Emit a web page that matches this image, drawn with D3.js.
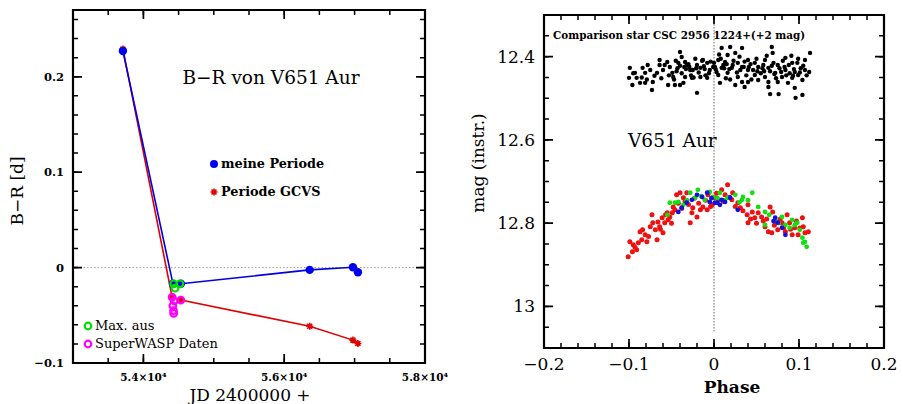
<!DOCTYPE html>
<html><head><meta charset="utf-8">
<script src="https://cdn.jsdelivr.net/npm/d3@7"></script>
<style>body{margin:0;background:#fff}svg{display:block}</style>
</head><body>
<svg id="c" width="903" height="404"></svg>
<script>
// ---------- Left panel data (B-R diagram) ----------
const meinePeriode = [[53709,0.227],[54420,-0.017],[54532,-0.017],[56362,-0.0024],[56976,0.0003],[57047,-0.0049]];
const periodeGCVS  = [[53709,0.229],[54408,-0.031],[54532,-0.034],[56362,-0.0615],[56976,-0.076],[57047,-0.0795]];
const maxAus       = [[54430,-0.017],[54518,-0.017],[54450,-0.0216]];
const superWASP    = [[54408,-0.031],[54437,-0.035],[54532,-0.034],[54418,-0.040],[54428,-0.045],[54430,-0.048]];
const leftXTicks = [54000,56000,58000];
const leftYTicks = [-0.1,0,0.1,0.2];

// ---------- Right panel data (phase diagram) ----------
const compStar = [
[-0.099,12.427],[-0.093,12.439],[-0.100,12.451],[-0.091,12.451],[-0.084,12.427],[-0.078,12.420],[-0.081,12.439],
[-0.096,12.468],[-0.087,12.463],[-0.081,12.463],[-0.072,12.461],[-0.073,12.480],[-0.067,12.439],[-0.064,12.408],
[-0.055,12.413],[-0.052,12.425],[-0.049,12.439],[-0.048,12.449],[-0.054,12.468],[-0.046,12.468],[-0.040,12.468],
[-0.036,12.463],[-0.040,12.389],[-0.038,12.401],[-0.042,12.415],[-0.034,12.413],[-0.032,12.420],[-0.028,12.432],
[-0.025,12.432],[-0.020,12.420],[-0.016,12.427],[-0.013,12.408],[-0.008,12.415],[-0.005,12.432],[-0.001,12.425],
[-0.020,12.487],[-0.034,12.449],[-0.026,12.451],[-0.016,12.449],[-0.008,12.451],[-0.064,12.420],[-0.060,12.432],
[0.009,12.379],[0.019,12.377],[0.033,12.379],[0.068,12.377],[0.016,12.396],[0.025,12.391],[0.005,12.408],
[0.013,12.413],[0.028,12.415],[0.040,12.408],[0.048,12.415],[0.060,12.408],[0.069,12.391],[0.084,12.403],
[0.092,12.415],[0.107,12.408],[0.113,12.391],[0.001,12.425],[0.009,12.427],[0.021,12.427],[0.033,12.425],
[0.040,12.432],[0.052,12.425],[0.064,12.427],[0.075,12.420],[0.084,12.432],[0.095,12.437],[0.107,12.432],
[0.112,12.437],[0.005,12.444],[0.016,12.439],[0.028,12.449],[0.048,12.444],[0.060,12.449],[0.072,12.439],
[0.080,12.449],[0.092,12.451],[0.099,12.444],[0.033,12.461],[0.040,12.461],[0.052,12.456],[0.064,12.461],
[0.075,12.461],[0.087,12.463],[0.104,12.456],[0.007,12.463],[0.025,12.468],[0.036,12.473],[0.064,12.473],
[0.095,12.475],[0.066,12.490],[0.076,12.490],[0.096,12.499],[0.104,12.492],
[-0.075,12.432],[-0.070,12.446],[-0.058,12.420],[-0.045,12.410],[-0.043,12.428],[-0.038,12.440],[-0.030,12.418],
[-0.027,12.445],[-0.022,12.405],[-0.018,12.438],[-0.012,12.423],[-0.010,12.445],[-0.004,12.412],[0.003,12.437],
[0.006,12.395],[0.011,12.420],[0.014,12.452],[0.018,12.430],[0.023,12.410],[0.027,12.438],[0.030,12.400],
[0.035,12.425],[0.038,12.445],[0.043,12.418],[0.046,12.432],[0.050,12.405],[0.055,12.440],[0.058,12.420],
[0.062,12.398],[0.066,12.435],[0.070,12.415],[0.073,12.452],[0.077,12.428],[0.081,12.410],[0.085,12.445],
[0.088,12.420],[0.091,12.398],[0.094,12.430],[0.098,12.415],[0.101,12.438],[0.105,12.422],[0.109,12.445],
[-0.053,12.445],[-0.047,12.455],[-0.033,12.430],[-0.024,12.450],[-0.014,12.410],[-0.006,12.440],[0.000,12.415],
[0.008,12.405],[-0.062,12.452],[-0.040,12.422],[0.019,12.455],[0.044,12.455],[0.059,12.435],[0.083,12.425],
[0.099,12.405],[-0.085,12.450],[-0.079,12.455],[-0.095,12.440],
[-0.029,12.425],[-0.021,12.428],[-0.011,12.430],[0.002,12.430],[0.012,12.428],[0.022,12.420],[0.031,12.432],
[0.041,12.425],[0.051,12.435],[0.057,12.428],[0.068,12.422],[0.079,12.437],[0.089,12.440],[0.102,12.428],
[-0.035,12.425],[-0.044,12.435],[0.015,12.418],[0.036,12.412],[0.071,12.442],[0.093,12.446]
];
const redPts = [
[-0.101,12.881],[-0.096,12.869],[-0.099,12.845],[-0.095,12.852],[-0.091,12.864],[-0.089,12.847],[-0.085,12.840],
[-0.087,12.821],[-0.084,12.816],[-0.081,12.828],[-0.079,12.845],[-0.075,12.809],[-0.073,12.780],[-0.072,12.799],
[-0.069,12.816],[-0.067,12.840],[-0.066,12.797],[-0.064,12.809],[-0.061,12.787],[-0.060,12.823],[-0.058,12.799],
[-0.055,12.775],[-0.054,12.792],[-0.052,12.785],[-0.049,12.775],[-0.048,12.761],[-0.046,12.768],[-0.044,12.732],
[-0.040,12.727],[-0.036,12.739],[-0.032,12.727],[-0.028,12.799],[-0.026,12.775],[-0.025,12.763],[-0.020,12.785],
[-0.016,12.768],[-0.013,12.761],[-0.008,12.768],[-0.007,12.732],[-0.002,12.756],[0.001,12.739],
[0.016,12.708],[0.009,12.720],[0.013,12.732],[0.022,12.727],[0.005,12.744],[0.021,12.744],[0.028,12.751],
[0.031,12.763],[0.040,12.756],[0.039,12.780],[0.045,12.773],[0.048,12.787],[0.052,12.775],[0.040,12.799],
[0.056,12.785],[0.066,12.761],[0.069,12.773],[0.060,12.809],[0.064,12.821],[0.068,12.823],[0.074,12.797],
[0.080,12.799],[0.086,12.780],[0.089,12.799],[0.095,12.811],[0.099,12.828],[0.104,12.787],[0.105,12.809],
[0.107,12.823],[0.092,12.828],[0.075,12.816],[0.084,12.821],[0.111,12.821],
[-0.093,12.858],[-0.077,12.832],[-0.063,12.815],[-0.057,12.780],[-0.050,12.800],[-0.042,12.752],[-0.038,12.765],
[-0.034,12.748],[-0.030,12.755],[-0.023,12.740],[-0.018,12.752],[-0.010,12.745],[-0.004,12.760],[0.003,12.728],
[0.011,12.748],[0.018,12.738],[0.025,12.760],[0.034,12.770],[0.043,12.790],[0.050,12.800],[0.058,12.795],
[0.062,12.790],[0.071,12.805],[0.078,12.790],[0.082,12.812],[0.090,12.815],[0.097,12.795],[0.101,12.812]
];
const greenPts = [
[-0.052,12.751],[-0.046,12.751],[-0.042,12.749],[-0.036,12.756],[-0.028,12.727],[-0.022,12.739],[-0.019,12.720],
[-0.011,12.744],[-0.005,12.725],[-0.001,12.737],[-0.055,12.780],
[0.045,12.727],[0.034,12.737],[0.033,12.744],[0.052,12.761],[0.060,12.773],[0.072,12.792],[0.080,12.785],
[0.092,12.792],[0.098,12.799],[0.101,12.816],[0.104,12.835],[0.105,12.847],[0.109,12.857],[0.107,12.845],
[0.016,12.739],[0.025,12.732],[0.007,12.727],[0.060,12.804],[0.084,12.804],[0.089,12.811],
[-0.032,12.745],[-0.015,12.735],[0.004,12.740],[0.012,12.745],[0.030,12.750],[0.040,12.745],[0.065,12.780],
[0.076,12.800],[0.095,12.805]
];
const bluePts = [
[-0.042,12.773],[-0.038,12.763],[-0.032,12.751],[-0.026,12.744],[-0.020,12.732],[-0.014,12.737],[-0.008,12.727],
[-0.005,12.749],[0.004,12.751],[0.001,12.751],[0.007,12.756],[0.013,12.749],[0.028,12.768],[0.072,12.787],
[0.075,12.799],[0.084,12.828],[0.080,12.811],[0.009,12.744],[0.019,12.739],[-0.003,12.740],[0.070,12.795]
];
const rightXTicks = [-0.2,-0.1,0,0.1,0.2];
const rightYTicks = [12.4,12.6,12.8,13];

// ---------- drawing ----------
const svg = d3.select("#c");
const SERIF = "'DejaVu Serif', serif";
const minus = s => s.replace("-", "\u2212");
function steps(a,b,s){const r=[];for(let v=a;v<=b+1e-9;v+=s)r.push(+v.toFixed(6));return r;}

function drawFrame(g, sx, sy, xMaj, xMin, yMaj, yMin) {
  const xr = sx.range(), yr = sy.range();
  const L = Math.min(xr[0],xr[1]), R = Math.max(xr[0],xr[1]);
  const T = Math.min(yr[0],yr[1]), B = Math.max(yr[0],yr[1]);
  const tick = (vals, len) => {
    let d = "";
    vals.forEach(v => { const px = sx(v); d += `M${px},${B}V${B-len}M${px},${T}V${T+len}`; });
    return d;
  };
  const tickY = (vals, len) => {
    let d = "";
    vals.forEach(v => { const py = sy(v); d += `M${L},${py}H${L+len}M${R},${py}H${R-len}`; });
    return d;
  };
  g.append("path").attr("d", tick(xMin,5)+tickY(yMin,5)).attr("fill","none").attr("stroke","#000").attr("stroke-width",1.5);
  g.append("path").attr("d", tick(xMaj,9)+tickY(yMaj,9)).attr("fill","none").attr("stroke","#000").attr("stroke-width",1.7);
  g.append("path").attr("d", `M${L},${T}H${R}V${B}H${L}Z`).attr("fill","none").attr("stroke","#000").attr("stroke-width",2.2);
}

// ===== Left panel =====
const lx = d3.scaleLinear().domain([53000,58000]).range([73,425]);
const ly = d3.scaleLinear().domain([-0.1,0.27]).range([363,10]);
const gl = svg.append("g");

gl.append("line").attr("x1",lx(53150)).attr("x2",lx(57850)).attr("y1",ly(0)).attr("y2",ly(0))
  .attr("stroke","#999").attr("stroke-width",1).attr("stroke-dasharray","1.5,2");

const line = d3.line().x(d=>lx(d[0])).y(d=>ly(d[1]));
gl.append("path").datum(periodeGCVS).attr("d",line).attr("fill","none").attr("stroke","#e00000").attr("stroke-width",1.6);
gl.append("path").datum(meinePeriode).attr("d",line).attr("fill","none").attr("stroke","#0000e0").attr("stroke-width",1.6);

function asterisk(cx, cy, r) {
  let p = "";
  for (let k=0;k<4;k++){const a=k*Math.PI/4;p+=`M${cx-r*Math.cos(a)},${cy-r*Math.sin(a)}L${cx+r*Math.cos(a)},${cy+r*Math.sin(a)}`;}
  return p;
}
gl.selectAll(".ast").data(periodeGCVS).join("path").attr("d",d=>asterisk(lx(d[0]),ly(d[1]),3.5))
  .attr("stroke","#e00000").attr("stroke-width",1.6).attr("fill","none");
gl.selectAll(".bd").data(meinePeriode).join("circle").attr("cx",d=>lx(d[0])).attr("cy",d=>ly(d[1])).attr("r",4.2).attr("fill","#0000f0");
gl.selectAll(".gd").data(maxAus).join("circle").attr("cx",d=>lx(d[0])).attr("cy",d=>ly(d[1])).attr("r",3.3)
  .attr("fill","none").attr("stroke","#00e000").attr("stroke-width",2.2);
gl.selectAll(".md").data(superWASP).join("circle").attr("cx",d=>lx(d[0])).attr("cy",d=>ly(d[1])).attr("r",3.3)
  .attr("fill","none").attr("stroke","#ff00ff").attr("stroke-width",2.2);

gl.selectAll(".ylab").data(leftYTicks).join("text").attr("x",64).attr("y",d=>ly(d)+4).attr("text-anchor","end")
  .attr("font-family",SERIF).attr("font-weight","bold").attr("font-size",11.5)
  .text(d=>d===0?"0":minus(d3.format(".1f")(d)));
gl.selectAll(".xlab").data(leftXTicks).join("text").attr("x",d=>lx(d)).attr("y",381).attr("text-anchor","middle")
  .attr("font-family",SERIF).attr("font-weight","bold").attr("font-size",10.5)
  .text(d=>(d/1e4).toFixed(1)+"\u00d710\u2074");
gl.append("text").attr("x",250).attr("y",401).attr("text-anchor","middle").attr("font-family",SERIF).attr("font-size",17)
  .text("JD 2400000 +");
gl.append("text").attr("transform","translate(23,191) rotate(-90)").attr("text-anchor","middle").attr("font-family",SERIF)
  .attr("font-size",17).text("B\u2212R [d]");
gl.append("text").attr("x",271).attr("y",84).attr("text-anchor","middle").attr("font-family",SERIF).attr("font-size",18.5)
  .text("B\u2212R von V651 Aur");

// legends
gl.append("circle").attr("cx",214).attr("cy",164).attr("r",4).attr("fill","#0000f0");
gl.append("text").attr("x",221).attr("y",168).attr("font-family",SERIF).attr("font-weight","bold").attr("font-size",12.8).text("meine Periode");
gl.append("path").attr("d",asterisk(214,192,3.5)).attr("stroke","#e00000").attr("stroke-width",1.6);
gl.append("text").attr("x",221).attr("y",196).attr("font-family",SERIF).attr("font-weight","bold").attr("font-size",12.8).text("Periode GCVS");
gl.append("circle").attr("cx",88).attr("cy",326).attr("r",3.3).attr("fill","none").attr("stroke","#00e000").attr("stroke-width",2.2);
gl.append("text").attr("x",95).attr("y",330).attr("font-family",SERIF).attr("font-size",13).text("Max. aus");
gl.append("circle").attr("cx",88).attr("cy",344).attr("r",3.3).attr("fill","none").attr("stroke","#ff00ff").attr("stroke-width",2.2);
gl.append("text").attr("x",95).attr("y",348).attr("font-family",SERIF).attr("font-size",13).text("SuperWASP Daten");

drawFrame(gl, lx, ly, leftXTicks, steps(53000,58000,500), leftYTicks, steps(-0.1,0.26,0.02));

// ===== Right panel =====
const rx = d3.scaleLinear().domain([-0.2,0.2]).range([544,884]);
const ry = d3.scaleLinear().domain([13.1,12.3]).range([348,15]);
const gr = svg.append("g");

gr.append("line").attr("x1",rx(0)).attr("x2",rx(0)).attr("y1",18).attr("y2",ry(13.06))
  .attr("stroke","#666").attr("stroke-width",1).attr("stroke-dasharray","1.5,1.5");

gr.selectAll(".k").data(compStar).join("circle").attr("cx",d=>rx(d[0])).attr("cy",d=>ry(d[1])).attr("r",2.2).attr("fill","#000");
gr.selectAll(".r").data(redPts).join("circle").attr("cx",d=>rx(d[0])).attr("cy",d=>ry(d[1])).attr("r",2.5).attr("fill","#f01010");
gr.selectAll(".g").data(greenPts).join("circle").attr("cx",d=>rx(d[0])).attr("cy",d=>ry(d[1])).attr("r",2.4).attr("fill","#10e010");
gr.selectAll(".b").data(bluePts).join("circle").attr("cx",d=>rx(d[0])).attr("cy",d=>ry(d[1])).attr("r",2.4).attr("fill","#1010e0");

gr.selectAll(".ylab").data(rightYTicks).join("text").attr("x",535).attr("y",d=>ry(d)+6).attr("text-anchor","end")
  .attr("font-family",SERIF).attr("font-size",17).text(d=>d3.format(".1f")(d).replace(/\.0$/,""));
gr.selectAll(".xlab").data(rightXTicks).join("text").attr("x",d=>rx(d)).attr("y",370).attr("text-anchor","middle")
  .attr("font-family",SERIF).attr("font-size",17).text(d=>d===0?"0":minus(d3.format(".1f")(d)));
gr.append("text").attr("x",732).attr("y",393).attr("text-anchor","middle").attr("font-family",SERIF).attr("font-size",17)
  .attr("font-weight","bold").text("Phase");
gr.append("text").attr("transform","translate(484,163) rotate(-90)").attr("text-anchor","middle").attr("font-family",SERIF)
  .attr("font-size",17).text("mag (instr.)");
gr.append("text").attr("x",553).attr("y",39).attr("font-family",SERIF).attr("font-weight","bold").attr("font-size",10.4)
  .text("Comparison star CSC 2956 1224+(+2 mag)");
gr.append("text").attr("x",628).attr("y",147).attr("font-family",SERIF).attr("font-size",18.5).text("V651 Aur");

drawFrame(gr, rx, ry, rightXTicks, steps(-0.2,0.2,0.02), rightYTicks, steps(12.3,13.1,0.05));
</script>
</body></html>
